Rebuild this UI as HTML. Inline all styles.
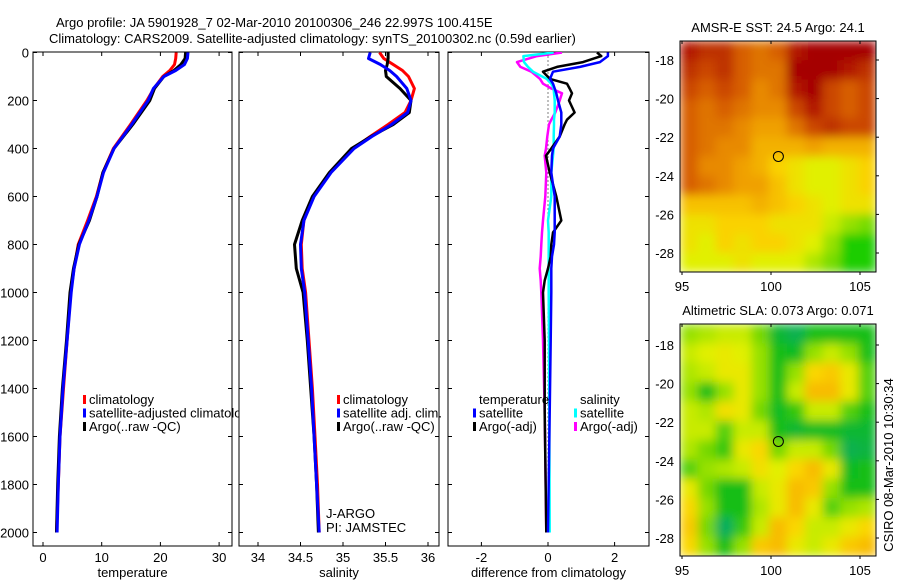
<!DOCTYPE html>
<html><head><meta charset="utf-8"><style>
html,body{margin:0;padding:0;background:#fff;}
svg{display:block;font-family:"Liberation Sans",sans-serif;}
text{font-size:13px;fill:#000;}
</style></head><body>
<svg id="fig" width="900" height="580" viewBox="0 0 900 580">
<rect width="900" height="580" fill="#fff"/>
<text x="56" y="27">Argo profile: JA 5901928_7 02-Mar-2010 20100306_246 22.997S 100.415E</text>
<text x="49" y="43">Climatology: CARS2009. Satellite-adjusted climatology: synTS_20100302.nc (0.59d earlier)</text>
<defs>
<clipPath id="c1"><rect x="33" y="52" width="206" height="494"/></clipPath>
<clipPath id="c2"><rect x="239" y="52" width="200" height="494"/></clipPath>
<clipPath id="c3"><rect x="448" y="52" width="201" height="494"/></clipPath>
<clipPath id="m1"><rect x="680" y="41" width="196" height="231"/></clipPath>
<clipPath id="m2"><rect x="680" y="324" width="196" height="232"/></clipPath>
<filter id="blur" x="0" y="0" width="1" height="1"><feGaussianBlur stdDeviation="5" edgeMode="duplicate"/></filter>
</defs>
<g id="g"></g>
</svg>
<script>
// ---------- data ----------
const depthTicks = [0,200,400,600,800,1000,1200,1400,1600,1800,2000];
const tempTicks = [0,10,20,30];
const salTicks = [34,34.5,35,35.5,36];
const diffTicks = [-2,0,2];
const lonTicks = [95,100,105];
const latTicks = [-18,-20,-22,-24,-26,-28];

const depthT = [0,25,50,75,100,150,200,300,400,500,600,700,800,900,1000,1200,1400,1600,1800,2000];
const tempClim = [22.7,22.6,22.4,21.6,20.4,18.9,17.7,14.9,12.0,10.2,9.1,7.6,6.0,5.3,4.7,4.1,3.5,2.9,2.6,2.3];
const tempSat  = [24.7,24.6,24.1,22.6,20.6,18.8,17.9,15.1,12.1,10.3,9.2,7.8,6.2,5.3,4.8,4.1,3.4,2.9,2.6,2.4];
const tempArgo = [24.3,24.2,23.5,22.3,20.6,19.0,18.2,15.3,12.1,10.2,9.2,7.9,6.1,5.2,4.6,4.0,3.3,2.8,2.5,2.3];

const depthS = [0,25,50,75,100,150,200,250,300,350,400,500,600,700,800,900,1000,1200,1400,1600,1800,2000];
const salClim = [35.43,35.48,35.59,35.70,35.77,35.84,35.80,35.73,35.53,35.32,35.12,34.85,34.65,34.54,34.51,34.52,34.56,34.60,34.64,34.67,34.70,34.72];
const salSat  = [35.32,35.30,35.44,35.55,35.63,35.75,35.80,35.76,35.57,35.34,35.13,34.86,34.66,34.54,34.50,34.51,34.55,34.59,34.63,34.66,34.69,34.72];
const salArgo = [35.53,35.53,35.52,35.50,35.51,35.67,35.80,35.78,35.59,35.33,35.10,34.84,34.64,34.52,34.43,34.45,34.53,34.58,34.62,34.66,34.69,34.71];

const depthD = [0,15,40,60,80,110,130,150,170,200,250,280,300,350,400,430,500,600,700,750,800,850,900,950,1000,1200,1500,2000];
const dTempSat  = [1.8,1.8,1.56,0.96,0.15,0.06,0.15,0.2,0.25,0.3,0.4,0.4,0.4,0.35,0.15,0.12,0.1,0.2,0.2,0.2,0.18,0.12,0.1,0.1,0.1,0.08,0.05,0.0];
const dTempArgo = [1.47,1.6,1.05,0.27,-0.15,0.06,0.57,0.65,0.72,0.63,0.8,0.57,0.5,0.35,0.1,-0.06,0.05,0.25,0.4,0.15,0.1,0.08,0.0,-0.1,-0.15,-0.1,-0.1,-0.05];
const dSalSat   = [0.17,-0.74,-0.72,-0.6,-0.45,-0.04,0.1,0.17,0.18,0.2,0.2,0.18,0.18,0.17,0.17,0.15,0.1,0.1,0.0,0.02,0.02,0.02,0.02,0.02,0.02,0.03,0.04,0.05];
const dSalArgo  = [0.42,-0.33,-0.93,-0.83,-0.5,-0.24,-0.15,0.1,0.42,0.35,0.22,0.1,0.03,-0.02,-0.06,-0.1,-0.05,-0.08,-0.15,-0.18,-0.2,-0.22,-0.25,-0.22,-0.2,-0.15,-0.1,-0.05];

const sstGrid = [
[0.95,0.9,0.9,0.8,0.75,0.8,0.95,1,1,1,1],
[0.9,0.85,0.9,0.8,0.75,0.75,1,1,1,0.95,0.9],
[0.85,0.8,0.85,0.8,0.7,0.75,0.95,1,0.85,0.8,0.85],
[0.8,0.75,0.8,0.75,0.7,0.7,0.85,0.95,0.85,0.8,0.85],
[0.8,0.75,0.75,0.7,0.65,0.65,0.75,0.85,0.9,0.85,0.85],
[0.8,0.75,0.7,0.7,0.6,0.6,0.6,0.65,0.6,0.6,0.6],
[0.8,0.7,0.7,0.65,0.6,0.5,0.45,0.4,0.4,0.45,0.5],
[0.8,0.75,0.7,0.65,0.65,0.55,0.45,0.4,0.4,0.45,0.5],
[0.55,0.55,0.55,0.55,0.6,0.55,0.5,0.45,0.4,0.45,0.45],
[0.45,0.45,0.5,0.5,0.5,0.45,0.45,0.45,0.35,0.25,0.2],
[0.45,0.4,0.5,0.45,0.5,0.5,0.45,0.4,0.25,0.05,0.05],
[0.4,0.4,0.4,0.45,0.4,0.4,0.4,0.3,0.2,0.05,0.05]];
const slaGrid = [
[0.5,0.55,0.6,0.6,0.45,0.2,0.1,0.3,0.3,0.3,0.3],
[0.6,0.65,0.7,0.65,0.5,0.3,0.25,0.5,0.6,0.5,0.3],
[0.55,0.6,0.7,0.7,0.5,0.3,0.5,0.8,0.85,0.7,0.4],
[0.5,0.3,0.5,0.7,0.5,0.3,0.6,0.9,0.9,0.7,0.4],
[0.6,0.55,0.75,0.7,0.45,0.25,0.35,0.6,0.6,0.4,0.3],
[0.6,0.6,0.4,0.6,0.6,0.3,0.2,0.25,0.25,0.2,0.2],
[0.55,0.45,0.35,0.7,0.8,0.45,0.6,0.6,0.45,0.1,0.15],
[0.4,0.5,0.55,0.6,0.75,0.65,0.8,0.9,0.7,0.25,0.3],
[0.7,0.45,0.3,0.3,0.6,0.7,0.9,0.85,0.5,0.3,0.3],
[0.8,0.5,0.3,0.3,0.55,0.7,0.9,0.7,0.4,0.5,0.55],
[0.85,0.45,0.05,0.35,0.6,0.9,0.8,0.6,0.6,0.7,0.8],
[0.8,0.5,0.3,0.5,0.85,0.9,0.7,0.6,0.7,0.85,0.9]];
const argoLon = 100.415, argoLat = -22.997;

// ---------- helpers ----------
const NS = "http://www.w3.org/2000/svg";
const G = document.getElementById('g');
function el(tag, attrs, parent){
  const e = document.createElementNS(NS, tag);
  for (const k in attrs) e.setAttribute(k, attrs[k]);
  (parent||G).appendChild(e); return e;
}
function txt(x,y,s,anchor,parent){
  const t = el('text',{x:x,y:y,'text-anchor':anchor||'start'},parent);
  t.textContent = s; return t;
}
const yD = d => 52.5 + 0.24*d;

function profilePanel(name, x0, x1, xs, xt, xlabel, clip, series, depths){
  const g = el('g',{});
  
  
  const frame = el('rect',{x:x0,y:52,width:x1-x0,height:494,fill:'none',stroke:'#000','stroke-width':1},g);
  
  
  depthTicks.forEach(d=>{
    el('line',{x1:x0,x2:x0+4,y1:yD(d),y2:yD(d),stroke:'#000'},g);
    el('line',{x1:x1-4,x2:x1,y1:yD(d),y2:yD(d),stroke:'#000'},g);
  });
  xt.forEach(v=>{
    const x = xs(v);
    el('line',{x1:x,x2:x,y1:52,y2:56,stroke:'#000'},g);
    el('line',{x1:x,x2:x,y1:542,y2:546,stroke:'#000'},g);
    const t = txt(x,562,String(v),'middle',g);
    
    
  });
  const xl = txt((x0+x1)/2,577,xlabel,'middle',g);
  
  
  const sg = el('g',{'clip-path':'url(#'+clip+')'},g);
  series.forEach(s=>{
    const pts = s.v.map((v,i)=>xs(v).toFixed(1)+','+yD(depths[i]).toFixed(1)).join(' ');
    const p = el('polyline',{points:pts,fill:'none',stroke:s.c,'stroke-width':s.w||3,'stroke-linejoin':'round'},sg);
    
    
  });
  return g;
}

depthTicks.forEach(d=>{
  const t = txt(29,yD(d)+5,String(d),'end');
  
  
});

const xsT = v => 43 + 5.87*v;
const xsS = v => 258 + 85*(v-34);
const xsD = v => 548 + 33.3*v;

profilePanel('temperature-panel',33,232,xsT,tempTicks,'temperature','c1',[
  {v:tempClim,c:'#f00',n:'temp-climatology-line'},
  {v:tempArgo,c:'#000',n:'temp-argo-line'},
  {v:tempSat,c:'#00f',n:'temp-satellite-line'}], depthT);
profilePanel('salinity-panel',239,439,xsS,salTicks,'salinity','c2',[
  {v:salClim,c:'#f00',n:'sal-climatology-line'},
  {v:salArgo,c:'#000',n:'sal-argo-line'},
  {v:salSat,c:'#00f',n:'sal-satellite-line'}], depthS);
const p3 = profilePanel('difference-panel',448,649,xsD,diffTicks,'difference from climatology','c3',[], depthD);
const zl = el('line',{x1:xsD(0),x2:xsD(0),y1:yD(0),y2:yD(2000),stroke:'#000','stroke-dasharray':'1,3'},p3);


const dg = el('g',{'clip-path':'url(#c3)'},p3);
[{v:dSalArgo,c:'#f0f',n:'diff-sal-argo-line'},{v:dSalSat,c:'#0ff',n:'diff-sal-satellite-line'},
 {v:dTempArgo,c:'#000',n:'diff-temp-argo-line'},{v:dTempSat,c:'#00f',n:'diff-temp-satellite-line'}].forEach(s=>{
  const pts = s.v.map((v,i)=>xsD(v).toFixed(1)+','+yD(depthD[i]).toFixed(1)).join(' ');
  const p = el('polyline',{points:pts,fill:'none',stroke:s.c,'stroke-width':2.5,'stroke-linejoin':'round'},dg);
  
  
});

function legend(name, x, y, items, clip){
  const g = el('g', clip?{'clip-path':'url(#'+clip+')'}:{});
  
  
  items.forEach((it,i)=>{
    const yy = y + i*13.5;
    if (it.c) el('rect',{x:x,y:yy-9,width:3,height:9,fill:it.c},g);
    const t = txt(x+6,yy,it.t,'start',g);
    
    
  });
}
legend('temperature-legend',83,404,[{c:'#f00',t:'climatology'},{c:'#00f',t:'satellite-adjusted climatology'},{c:'#000',t:'Argo(..raw -QC)'}],'c1');
legend('salinity-legend',337,404,[{c:'#f00',t:'climatology'},{c:'#00f',t:'satellite adj. clim.'},{c:'#000',t:'Argo(..raw -QC)'}]);
legend('diff-temp-legend',473,404,[{t:'temperature'},{c:'#00f',t:'satellite'},{c:'#000',t:'Argo(-adj)'}]);
legend('diff-sal-legend',574,404,[{t:'salinity'},{c:'#0ff',t:'satellite'},{c:'#f0f',t:'Argo(-adj)'}]);
const j1 = txt(326,518,'J-ARGO');  
const j2 = txt(326,532,'PI: JAMSTEC');  

function lerpC(stops, v){
  v = Math.max(0,Math.min(1,v));
  for (let i=1;i<stops.length;i++){
    if (v<=stops[i][0]){
      const a=stops[i-1], b=stops[i], f=(v-a[0])/(b[0]-a[0]||1);
      return 'rgb('+[1,2,3].map(k=>Math.round(a[k]+(b[k]-a[k])*f)).join(',')+')';
    }
  }
  const l=stops[stops.length-1]; return 'rgb('+l[1]+','+l[2]+','+l[3]+')';
}
const sstStops = [[0,0,200,0],[0.25,150,225,0],[0.4,225,240,0],[0.5,250,210,0],[0.65,240,160,0],[0.8,215,95,0],[1,165,0,0]];
const slaStops = [[0,0,170,110],[0.3,20,190,20],[0.5,150,225,0],[0.65,225,240,0],[0.8,250,215,0],[1,245,160,0]];

function mapPanel(name, title, top, bottom, grid, stops, latAt18, latAt28, clipId){
  const x0=680, x1=876;
  const lonX = l => 682 + 17.8*(l-95);
  const latY = l => latAt18 + (latAt28-latAt18)*(l+18)/(-10);
  const g = el('g',{});
  
  
  const tt = txt(778, top-9, title, 'middle', g);
  
  
  const rows = grid.length, cols = grid[0].length;
  const latTop = -18 + (latAt18-top)/((latAt28-latAt18)/10);
  const latBot = -18 - (bottom-latAt18)/((latAt28-latAt18)/10);
  const lonL = 95 + (x0-682)/17.8, lonR = 95 + (x1-682)/17.8;
  const dLat = (latTop-latBot)/rows, dLon = (lonR-lonL)/cols;
  const cg0 = el('g',{'clip-path':'url(#'+clipId+')'},g);
  const cg = el('g',{filter:'url(#blur)'},cg0);
  grid.forEach((row,r)=>row.forEach((v,c)=>{
    const xa = lonX(lonL+c*dLon), xb = lonX(lonL+(c+1)*dLon);
    const ya = latY(latTop-r*dLat), yb = latY(latTop-(r+1)*dLat);
    const cell = el('rect',{x:xa.toFixed(1),y:ya.toFixed(1),width:(xb-xa+0.6).toFixed(1),height:(yb-ya+0.6).toFixed(1),fill:lerpC(stops,v)},cg);
    
    
  }));
  el('rect',{x:x0,y:top,width:x1-x0,height:bottom-top,fill:'none',stroke:'#000'},g);
  lonTicks.forEach(l=>{
    const x=lonX(l);
    el('line',{x1:x,x2:x,y1:top,y2:top+3,stroke:'#000'},g);
    el('line',{x1:x,x2:x,y1:bottom,y2:bottom+3,stroke:'#000'},g);
    const t = txt(x,bottom+19,String(l),'middle',g);
    
    
  });
  latTicks.forEach(l=>{
    const y=latY(l);
    el('line',{x1:x1,x2:x1+3,y1:y,y2:y,stroke:'#000'},g);
    const t = txt(674,y+5,String(l),'end',g);
    
    
  });
  const m = el('circle',{cx:lonX(argoLon),cy:latY(argoLat),r:5,fill:'none',stroke:'#000','stroke-width':1},g);
  
  
}
mapPanel('sst-map','AMSR-E SST: 24.5 Argo: 24.1',41,272,sstGrid,sstStops,60,253,'m1');
mapPanel('sla-map','Altimetric SLA: 0.073 Argo: 0.071',324,556,slaGrid,slaStops,345,538,'m2');

const cs = txt(0,0,'CSIRO 08-Mar-2010 10:30:34','middle');
cs.setAttribute('transform','translate(893,465) rotate(-90)');


</script>
</body></html>
